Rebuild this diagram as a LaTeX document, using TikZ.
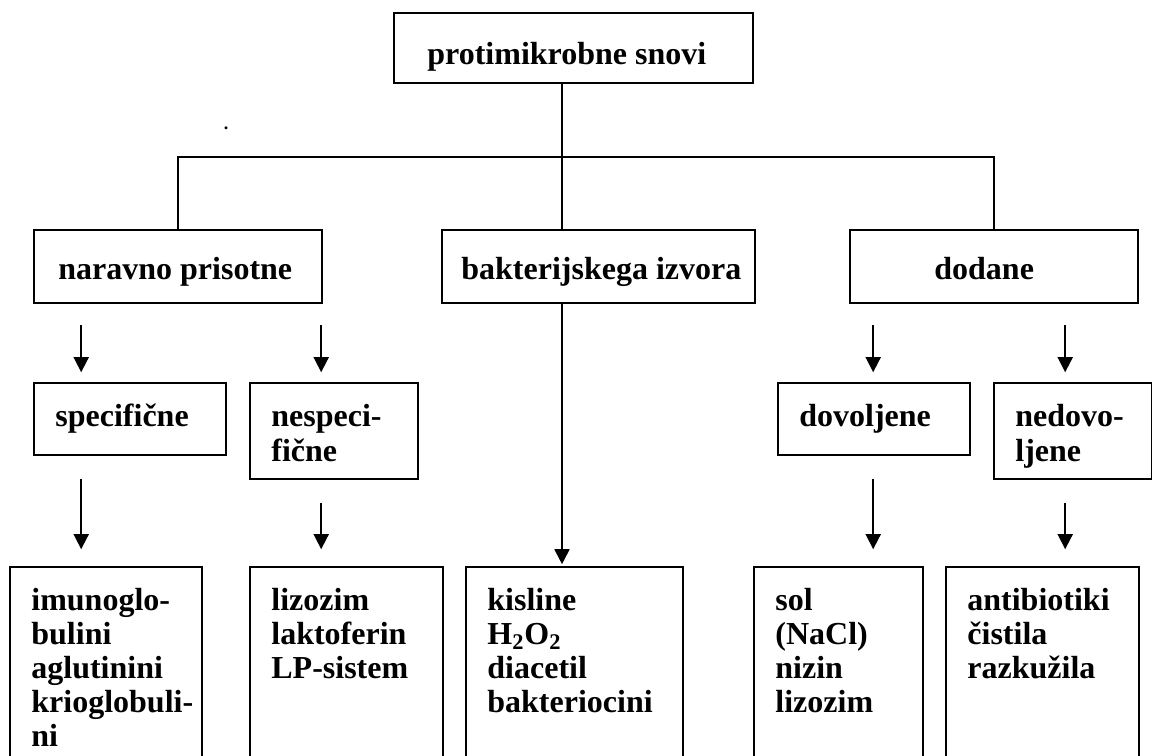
\documentclass[tikz,border=0pt]{standalone}
\usepackage{fontspec}
\setmainfont{Liberation Serif}
\usetikzlibrary{fit,arrows.meta}
\begin{document}
\begin{tikzpicture}[x=0.5pt,y=-0.5pt,
  box/.style={draw,line width=0.8pt,inner sep=0pt},
  txt/.style={inner sep=0pt,anchor=base west,font=\bfseries\fontsize{16}{17.5}\selectfont},
  lst/.style={txt,font=\bfseries\fontsize{16}{17}\selectfont},
  tree/.style={line width=0.6pt},
  arr/.style={line width=0.9pt,-{Triangle[width=7.5pt,length=7.5pt]}}]
\useasboundingbox (0,0) rectangle (1153,756);
\clip (0,0) rectangle (1153,756);
% boxes
\node[box,fit={(394,13) (753,83)}] (top) {};
\node[box,fit={(34,230) (322,303)}] (nara) {};
\node[box,fit={(442,230) (755,303)}] (bakt) {};
\node[box,fit={(850,230) (1138,303)}] (doda) {};
\node[box,fit={(34,383) (226,455)}] (spec) {};
\node[box,fit={(250,383) (418,479)}] (nesp) {};
\node[box,fit={(778,383) (970,455)}] (dovo) {};
\node[box,fit={(994,383) (1151.5,479)}] (nedo) {};
\node[box,fit={(10,567) (202,790)}] (imun) {};
\node[box,fit={(250,567) (443,790)}] (lizo) {};
\node[box,fit={(466,567) (683,790)}] (kisl) {};
\node[box,fit={(754,567) (923,790)}] (sol) {};
\node[box,fit={(946,567) (1139,790)}] (anti) {};
% texts
\node[txt] (ttop) at (427,64) {protimikrobne snovi};
\node[txt] (tnara) at (58,279) {naravno prisotne};
\node[txt] (tbakt) at (461,279) {bakterijskega izvora};
\node[txt] (tdoda) at (934,279) {dodane};
\node[txt] (tspec) at (55,426) {specifične};
\node[txt] (tnesp) at (271,426) {\begin{tabular}[t]{@{}l@{}}nespeci-\\fične\end{tabular}};
\node[txt] (tdovo) at (799,426) {dovoljene};
\node[txt] (tnedo) at (1015,426) {\begin{tabular}[t]{@{}l@{}}nedovo-\\ljene\end{tabular}};
\node[lst] (timun) at (31,610) {\begin{tabular}[t]{@{}l@{}}imunoglo-\\bulini\\aglutinini\\krioglobuli-\\ni\end{tabular}};
\node[lst] (tlizo) at (271,610) {\begin{tabular}[t]{@{}l@{}}lizozim\\laktoferin\\LP-sistem\end{tabular}};
\node[lst] (tkisl) at (487,610) {\begin{tabular}[t]{@{}l@{}}kisline\\H\textsubscript{2}O\textsubscript{2}\\diacetil\\bakteriocini\end{tabular}};
\node[lst] (tsol) at (775,610) {\begin{tabular}[t]{@{}l@{}}sol\\(NaCl)\\nizin\\lizozim\end{tabular}};
\node[lst] (tanti) at (967,610) {\begin{tabular}[t]{@{}l@{}}antibiotiki\\čistila\\razkužila\end{tabular}};
\node[inner sep=0pt,anchor=base,font=\bfseries\fontsize{9}{10}\selectfont] (dot) at (226,129) {.};
% tree connectors
\coordinate (hl) at (178,157);
\coordinate (hc) at (562,157);
\coordinate (hr) at (994,157);
\draw[tree] (top.south -| hc) -- (bakt.north -| hc);
\draw[tree] (nara.north -| hl) -- (hl) -- (hr) -- (doda.north -| hr);
% arrows
\draw[arr] ([xshift=24pt,yshift=-10.5pt]nara.south west) -- ([xshift=24pt,yshift=5pt]spec.north west);
\draw[arr] ([xshift=144pt,yshift=-10.5pt]nara.south west) -- ([xshift=36pt,yshift=5pt]nesp.north west);
\draw[arr] ([xshift=12pt,yshift=-10.5pt]doda.south west) -- ([xshift=48pt,yshift=5pt]dovo.north west);
\draw[arr] ([xshift=108pt,yshift=-10.5pt]doda.south west) -- ([xshift=36pt,yshift=5pt]nedo.north west);
\draw[arr] ([xshift=24pt,yshift=-11.5pt]spec.south west) -- ([xshift=36pt,yshift=8.5pt]imun.north west);
\draw[arr] ([xshift=36pt,yshift=-11.5pt]nesp.south west) -- ([xshift=36pt,yshift=8.5pt]lizo.north west);
\draw[arr] ([xshift=48pt,yshift=-11.5pt]dovo.south west) -- ([xshift=60pt,yshift=8.5pt]sol.north west);
\draw[arr] ([xshift=36pt,yshift=-11.5pt]nedo.south west) -- ([xshift=60pt,yshift=8.5pt]anti.north west);
\draw[arr] (bakt.south -| hc) -- ([yshift=1pt]kisl.north -| hc);
\end{tikzpicture}
\end{document}
